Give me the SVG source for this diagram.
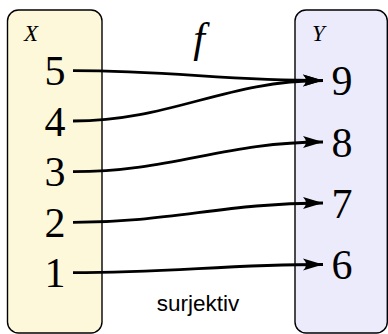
<svg xmlns="http://www.w3.org/2000/svg" width="388" height="334" viewBox="0 0 388 334">
<style>
.box{stroke:#000;stroke-width:1.4}
.num{font-family:"Liberation Serif",serif;font-size:42px;fill:#000;text-anchor:middle}
.lbl{font-family:"Liberation Serif",serif;font-style:italic;fill:#000}
.conn{fill:none;stroke:#000;stroke-width:2.8}
.cap{font-family:"Liberation Sans",sans-serif;font-size:22.5px;fill:#000;text-anchor:middle}
</style>
<defs>
<marker id="ah" markerUnits="userSpaceOnUse" markerWidth="24" markerHeight="14" refX="21" refY="7" orient="auto" viewBox="0 0 24 14">
<path d="M21,7 L1,1 Q7,7 1,13 Z" fill="#000"/>
</marker>
</defs>
<g id="setX">
<rect class="box" x="7.5" y="10" width="94.5" height="323" rx="11" fill="#fdf8da"/>
<text class="lbl" x="24" y="41" font-size="23">X</text>
<text class="num" x="55" y="85">5</text>
<text class="num" x="55" y="135.5">4</text>
<text class="num" x="55" y="186">3</text>
<text class="num" x="55" y="236.5">2</text>
<text class="num" x="55" y="287">1</text>
</g>
<g id="setY">
<rect class="box" x="295" y="10" width="92.3" height="323" rx="11" fill="#ebebfb"/>
<text class="lbl" x="312" y="41" font-size="23">Y</text>
<text class="num" x="342" y="95">9</text>
<text class="num" x="342" y="156.5">8</text>
<text class="num" x="342" y="217.5">7</text>
<text class="num" x="342" y="278.5">6</text>
</g>
<g id="fLabel">
<text class="lbl" x="199" y="52" font-size="42" text-anchor="middle">f</text>
</g>
<g id="caption">
<text class="cap" x="198" y="311">surjektiv</text>
</g>
<g id="connectors">
<path class="conn" marker-end="url(#ah)" d="M73,70.7 C171,70.7 225,80.5 323,80.5"/>
<path class="conn" marker-end="url(#ah)" d="M73,121 C171,121 225,80.5 323,80.5"/>
<path class="conn" marker-end="url(#ah)" d="M73,171.7 C171,171.7 225,142 323,142"/>
<path class="conn" marker-end="url(#ah)" d="M73,222.3 C171,222.3 225,203 323,203"/>
<path class="conn" marker-end="url(#ah)" d="M73,272.7 C171,272.7 225,264.5 323,264.5"/>
</g>
</svg>
